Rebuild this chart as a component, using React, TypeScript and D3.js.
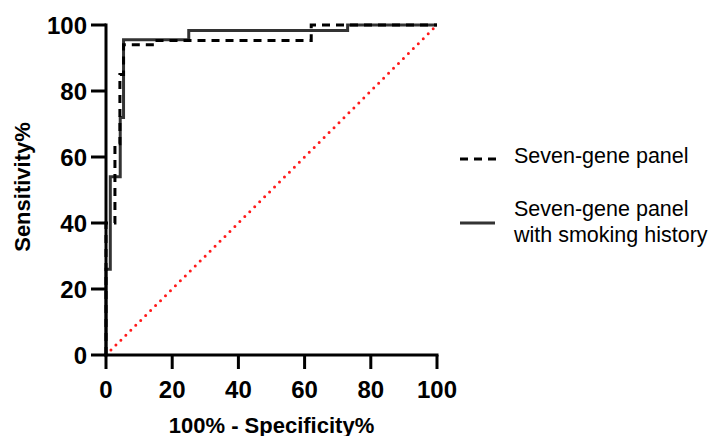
import React from 'react';
import * as d3 from 'd3';

// ROC step curves: [100% - specificity, sensitivity]
const panelX = [0, 0, 2.7, 2.7, 4.2, 4.2, 5.3, 5.3, 14, 14, 62, 62, 100];
const panelY = [0, 40, 40, 64, 64, 85, 85, 94, 94, 95.3, 95.3, 100, 100];

const smokingX = [0, 0, 1.3, 1.3, 4.3, 4.3, 5.3, 5.3, 25, 25, 73, 73, 100];
const smokingY = [0, 26, 26, 54, 54, 72, 72, 95.5, 95.5, 98.3, 98.3, 100, 100];

const ticks = [0, 20, 40, 60, 80, 100];

const width = 713;
const height = 436;
const font = 'Arial, "Liberation Sans", sans-serif';

const App = () => {
  const x = d3.scaleLinear().domain([0, 100]).range([106, 437]);
  const y = d3.scaleLinear().domain([0, 100]).range([355, 25]);

  const line = d3.line<[number, number]>()
    .x(d => x(d[0]))
    .y(d => y(d[1]));

  const panel = panelX.map((v, i) => [v, panelY[i]] as [number, number]);
  const smoking = smokingX.map((v, i) => [v, smokingY[i]] as [number, number]);

  return (
    <div style={{ position: 'absolute', left: 0, top: 0 }}>
      <svg width={width} height={height} style={{ display: 'block', background: '#fff' }}>
        {/* chance line */}
        <path
          d={line([[0, 0], [100, 100]]) || ''}
          fill="none"
          stroke="#ff1a1a"
          strokeWidth={3}
          strokeLinecap="round"
          strokeDasharray="0 7"
        />

        <path d={line(smoking) || ''} fill="none" stroke="#333" strokeWidth={3} />
        <path d={line(panel) || ''} fill="none" stroke="#000" strokeWidth={3} strokeDasharray="8 6" />

        {/* axes */}
        <line x1={x(0)} x2={x(0)} y1={y(100) - 1.5} y2={y(0) + 1.5} stroke="#000" strokeWidth={3} />
        <line x1={x(0) - 1.5} x2={x(100) + 1.5} y1={y(0)} y2={y(0)} stroke="#000" strokeWidth={3} />
        {ticks.map(t => (
          <g key={'y' + t}>
            <line x1={x(0) - 15} x2={x(0)} y1={y(t)} y2={y(t)} stroke="#000" strokeWidth={3} />
            <text x={x(0) - 19} y={y(t)} dy="0.36em" textAnchor="end"
              fontFamily={font} fontWeight="bold" fontSize={24}>{t}</text>
          </g>
        ))}
        {ticks.map(t => (
          <g key={'x' + t}>
            <line x1={x(t)} x2={x(t)} y1={y(0)} y2={y(0) + 14} stroke="#000" strokeWidth={3} />
            <text x={x(t)} y={y(0) + 43} textAnchor="middle"
              fontFamily={font} fontWeight="bold" fontSize={24}>{t}</text>
          </g>
        ))}

        <text x={x(50)} y={433} textAnchor="middle" fontFamily={font} fontWeight="bold" fontSize={22}>
          100% - Specificity%
        </text>
        <text transform={`translate(30,${y(50) - 3}) rotate(-90)`} textAnchor="middle"
          fontFamily={font} fontWeight="bold" fontSize={22}>
          Sensitivity%
        </text>

        {/* legend */}
        <line x1={460} x2={496} y1={159} y2={159} stroke="#000" strokeWidth={3} strokeDasharray="8 6" />
        <text x={514} y={163} fontFamily={font} fontSize={21.5}>Seven-gene panel</text>
        <line x1={460} x2={495} y1={223} y2={223} stroke="#333" strokeWidth={3} />
        <text x={514} y={216} fontFamily={font} fontSize={21.5}>Seven-gene panel</text>
        <text x={514} y={242} fontFamily={font} fontSize={21.5}>with smoking history</text>
      </svg>
    </div>
  );
};

export default App;
